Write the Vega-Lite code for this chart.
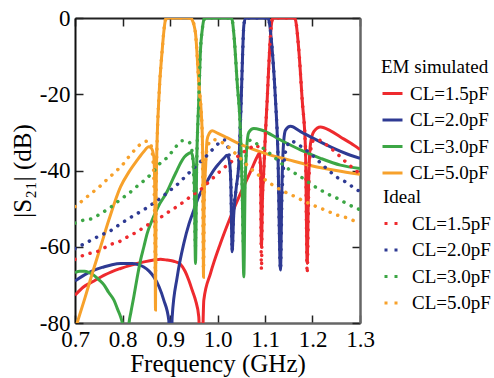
{
"$schema": "https://vega.github.io/schema/vega-lite/v6.json",
"width": 285, "height": 305,
"autosize": {"type": "none"},
"padding": {"left": 75, "top": 18, "right": 134, "bottom": 55},
"background": "white",
"config": {
 "font": "Liberation Serif",
 "view": {"stroke": null},
 "axis": {"labelFont": "Liberation Serif", "labelFontSize": 23, "labelColor": "black", "titleFont": "Liberation Serif", "titleFontSize": 25, "titleFontWeight": "normal", "titleColor": "black", "grid": false, "tickSize": -8, "tickColor": "#222", "tickWidth": 1.5, "domainColor": "#333", "domainWidth": 2, "labelOverlap": false, "labelFlush": false},
 "legend": {"titleFont": "Liberation Serif", "titleFontSize": 19, "titleFontWeight": "normal", "titleColor": "black", "labelFont": "Liberation Serif", "labelFontSize": 19, "labelColor": "black", "symbolType": "stroke", "symbolStrokeWidth": 3, "symbolSize": 400, "rowPadding": 4.5, "labelOffset": 6, "titlePadding": 5}
},
"datasets": {
 "em": [
{"f":0.700,"db":-72.7,"c":"CL=1.5pF"},{"f":0.7185,"db":-70.5,"c":"CL=1.5pF"},{"f":0.740,"db":-69,"c":"CL=1.5pF"},{"f":0.7606,"db":-67.5,"c":"CL=1.5pF"},{"f":0.778,"db":-66.5,"c":"CL=1.5pF"},{"f":0.7958,"db":-65.7,"c":"CL=1.5pF"},{"f":0.813,"db":-65,"c":"CL=1.5pF"},{"f":0.8309,"db":-64.4,"c":"CL=1.5pF"},{"f":0.848,"db":-63.9,"c":"CL=1.5pF"},{"f":0.8659,"db":-63.5,"c":"CL=1.5pF"},{"f":0.880,"db":-63.3,"c":"CL=1.5pF"},{"f":0.8941,"db":-63.5,"c":"CL=1.5pF"},{"f":0.908,"db":-63.8,"c":"CL=1.5pF"},{"f":0.9221,"db":-64.6,"c":"CL=1.5pF"},{"f":0.932,"db":-66.5,"c":"CL=1.5pF"},{"f":0.9396,"db":-68.8,"c":"CL=1.5pF"},{"f":0.947,"db":-71.5,"c":"CL=1.5pF"},{"f":0.9537,"db":-74,"c":"CL=1.5pF"},{"f":0.9606,"db":-78.4,"c":"CL=1.5pF"},{"f":0.9655,"db":-100,"c":"CL=1.5pF"},{"f":0.9712,"db":-74,"c":"CL=1.5pF"},{"f":0.9853,"db":-67,"c":"CL=1.5pF"},{"f":1.0063,"db":-59.1,"c":"CL=1.5pF"},{"f":1.0274,"db":-52.2,"c":"CL=1.5pF"},{"f":1.0484,"db":-46,"c":"CL=1.5pF"},{"f":1.0695,"db":-40.3,"c":"CL=1.5pF"},{"f":1.0836,"db":-36.4,"c":"CL=1.5pF"},{"f":1.088,"db":-35.5,"c":"CL=1.5pF"},{"f":1.0905,"db":-38,"c":"CL=1.5pF"},{"f":1.0925,"db":-60,"c":"CL=1.5pF"},{"f":1.0945,"db":-48,"c":"CL=1.5pF"},{"f":1.0975,"db":-40,"c":"CL=1.5pF"},{"f":1.101,"db":-30,"c":"CL=1.5pF"},{"f":1.1046,"db":-21.5,"c":"CL=1.5pF"},{"f":1.109,"db":-10,"c":"CL=1.5pF"},{"f":1.1125,"db":-3,"c":"CL=1.5pF"},{"f":1.1165,"db":0,"c":"CL=1.5pF"},{"f":1.162,"db":0,"c":"CL=1.5pF"},{"f":1.1642,"db":-0.5,"c":"CL=1.5pF"},{"f":1.1712,"db":-8.4,"c":"CL=1.5pF"},{"f":1.1783,"db":-21.5,"c":"CL=1.5pF"},{"f":1.1853,"db":-34.6,"c":"CL=1.5pF"},{"f":1.1888,"db":-64.4,"c":"CL=1.5pF"},{"f":1.1915,"db":-45,"c":"CL=1.5pF"},{"f":1.1958,"db":-33,"c":"CL=1.5pF"},{"f":1.2027,"db":-29.8,"c":"CL=1.5pF"},{"f":1.2168,"db":-28.6,"c":"CL=1.5pF"},{"f":1.238,"db":-29.6,"c":"CL=1.5pF"},{"f":1.2589,"db":-31.2,"c":"CL=1.5pF"},{"f":1.28,"db":-32.8,"c":"CL=1.5pF"},{"f":1.3,"db":-34.5,"c":"CL=1.5pF"},

{"f":0.700,"db":-69,"c":"CL=2.0pF"},{"f":0.7257,"db":-67,"c":"CL=2.0pF"},{"f":0.743,"db":-66,"c":"CL=2.0pF"},{"f":0.7606,"db":-65.3,"c":"CL=2.0pF"},{"f":0.778,"db":-64.7,"c":"CL=2.0pF"},{"f":0.7958,"db":-64.4,"c":"CL=2.0pF"},{"f":0.8204,"db":-64.4,"c":"CL=2.0pF"},{"f":0.833,"db":-64.7,"c":"CL=2.0pF"},{"f":0.8448,"db":-65.3,"c":"CL=2.0pF"},{"f":0.856,"db":-66.4,"c":"CL=2.0pF"},{"f":0.8659,"db":-67.9,"c":"CL=2.0pF"},{"f":0.877,"db":-70.5,"c":"CL=2.0pF"},{"f":0.8869,"db":-74,"c":"CL=2.0pF"},{"f":0.8975,"db":-79.3,"c":"CL=2.0pF"},{"f":0.9005,"db":-100,"c":"CL=2.0pF"},{"f":0.9046,"db":-78.4,"c":"CL=2.0pF"},{"f":0.9152,"db":-67.9,"c":"CL=2.0pF"},{"f":0.9291,"db":-59.1,"c":"CL=2.0pF"},{"f":0.940,"db":-54,"c":"CL=2.0pF"},{"f":0.9501,"db":-50.4,"c":"CL=2.0pF"},{"f":0.960,"db":-47,"c":"CL=2.0pF"},{"f":0.9712,"db":-44.3,"c":"CL=2.0pF"},{"f":0.982,"db":-42,"c":"CL=2.0pF"},{"f":0.9922,"db":-39.9,"c":"CL=2.0pF"},{"f":1.003,"db":-38.2,"c":"CL=2.0pF"},{"f":1.0133,"db":-36.8,"c":"CL=2.0pF"},{"f":1.0204,"db":-36,"c":"CL=2.0pF"},{"f":1.025,"db":-37.5,"c":"CL=2.0pF"},{"f":1.028,"db":-43,"c":"CL=2.0pF"},{"f":1.0309,"db":-61.3,"c":"CL=2.0pF"},{"f":1.034,"db":-52,"c":"CL=2.0pF"},{"f":1.039,"db":-45,"c":"CL=2.0pF"},{"f":1.0449,"db":-38,"c":"CL=2.0pF"},{"f":1.0499,"db":-21.5,"c":"CL=2.0pF"},{"f":1.053,"db":-9,"c":"CL=2.0pF"},{"f":1.0554,"db":-2,"c":"CL=2.0pF"},{"f":1.059,"db":0,"c":"CL=2.0pF"},{"f":1.106,"db":0,"c":"CL=2.0pF"},{"f":1.108,"db":-0.5,"c":"CL=2.0pF"},{"f":1.1152,"db":-8.4,"c":"CL=2.0pF"},{"f":1.1221,"db":-21.5,"c":"CL=2.0pF"},{"f":1.127,"db":-34.6,"c":"CL=2.0pF"},{"f":1.1326,"db":-66.1,"c":"CL=2.0pF"},{"f":1.1355,"db":-45,"c":"CL=2.0pF"},{"f":1.1396,"db":-32,"c":"CL=2.0pF"},{"f":1.1432,"db":-29.4,"c":"CL=2.0pF"},{"f":1.1537,"db":-28.4,"c":"CL=2.0pF"},{"f":1.175,"db":-29.8,"c":"CL=2.0pF"},{"f":1.1958,"db":-31.2,"c":"CL=2.0pF"},{"f":1.2379,"db":-33.8,"c":"CL=2.0pF"},{"f":1.28,"db":-36,"c":"CL=2.0pF"},{"f":1.3,"db":-36.8,"c":"CL=2.0pF"},

{"f":0.700,"db":-66.8,"c":"CL=3.0pF"},{"f":0.710,"db":-66.4,"c":"CL=3.0pF"},{"f":0.720,"db":-66.4,"c":"CL=3.0pF"},{"f":0.730,"db":-66.8,"c":"CL=3.0pF"},{"f":0.740,"db":-67.5,"c":"CL=3.0pF"},{"f":0.750,"db":-68.6,"c":"CL=3.0pF"},{"f":0.761,"db":-70,"c":"CL=3.0pF"},{"f":0.771,"db":-72,"c":"CL=3.0pF"},{"f":0.782,"db":-74,"c":"CL=3.0pF"},{"f":0.790,"db":-76.5,"c":"CL=3.0pF"},{"f":0.796,"db":-78.4,"c":"CL=3.0pF"},{"f":0.801,"db":-81,"c":"CL=3.0pF"},{"f":0.807,"db":-100,"c":"CL=3.0pF"},{"f":0.813,"db":-81,"c":"CL=3.0pF"},{"f":0.818,"db":-77,"c":"CL=3.0pF"},{"f":0.824,"db":-73,"c":"CL=3.0pF"},{"f":0.831,"db":-68,"c":"CL=3.0pF"},{"f":0.838,"db":-63.5,"c":"CL=3.0pF"},{"f":0.845,"db":-60,"c":"CL=3.0pF"},{"f":0.852,"db":-56.5,"c":"CL=3.0pF"},{"f":0.8625,"db":-53,"c":"CL=3.0pF"},{"f":0.875,"db":-49.5,"c":"CL=3.0pF"},{"f":0.894,"db":-45.5,"c":"CL=3.0pF"},{"f":0.905,"db":-42.5,"c":"CL=3.0pF"},{"f":0.915,"db":-39.9,"c":"CL=3.0pF"},{"f":0.922,"db":-38.1,"c":"CL=3.0pF"},{"f":0.930,"db":-36.5,"c":"CL=3.0pF"},{"f":0.9396,"db":-35.5,"c":"CL=3.0pF"},{"f":0.9446,"db":-35.3,"c":"CL=3.0pF"},{"f":0.948,"db":-36.5,"c":"CL=3.0pF"},{"f":0.951,"db":-42,"c":"CL=3.0pF"},{"f":0.9537,"db":-64.4,"c":"CL=3.0pF"},{"f":0.956,"db":-40,"c":"CL=3.0pF"},{"f":0.9606,"db":-21.5,"c":"CL=3.0pF"},{"f":0.9642,"db":-8.4,"c":"CL=3.0pF"},{"f":0.968,"db":-3,"c":"CL=3.0pF"},{"f":0.9712,"db":-0.5,"c":"CL=3.0pF"},{"f":0.975,"db":0,"c":"CL=3.0pF"},{"f":1.028,"db":0,"c":"CL=3.0pF"},{"f":1.0309,"db":-0.5,"c":"CL=3.0pF"},{"f":1.0343,"db":-4,"c":"CL=3.0pF"},{"f":1.0415,"db":-17,"c":"CL=3.0pF"},{"f":1.0484,"db":-30,"c":"CL=3.0pF"},{"f":1.052,"db":-45,"c":"CL=3.0pF"},{"f":1.0554,"db":-67.9,"c":"CL=3.0pF"},{"f":1.058,"db":-45,"c":"CL=3.0pF"},{"f":1.061,"db":-35,"c":"CL=3.0pF"},{"f":1.0659,"db":-30,"c":"CL=3.0pF"},{"f":1.0764,"db":-29,"c":"CL=3.0pF"},{"f":1.0905,"db":-29.3,"c":"CL=3.0pF"},{"f":1.1326,"db":-32,"c":"CL=3.0pF"},{"f":1.1747,"db":-34.6,"c":"CL=3.0pF"},{"f":1.2168,"db":-36.8,"c":"CL=3.0pF"},{"f":1.2589,"db":-38.6,"c":"CL=3.0pF"},{"f":1.3,"db":-39.5,"c":"CL=3.0pF"},

{"f":0.700,"db":-82,"c":"CL=5.0pF"},{"f":0.7046,"db":-80,"c":"CL=5.0pF"},{"f":0.720,"db":-73.8,"c":"CL=5.0pF"},{"f":0.7376,"db":-66.5,"c":"CL=5.0pF"},{"f":0.7546,"db":-59.7,"c":"CL=5.0pF"},{"f":0.7712,"db":-53,"c":"CL=5.0pF"},{"f":0.7958,"db":-44.3,"c":"CL=5.0pF"},{"f":0.813,"db":-40.5,"c":"CL=5.0pF"},{"f":0.8309,"db":-37.3,"c":"CL=5.0pF"},{"f":0.845,"db":-35,"c":"CL=5.0pF"},{"f":0.8554,"db":-33.8,"c":"CL=5.0pF"},{"f":0.861,"db":-34.2,"c":"CL=5.0pF"},{"f":0.8659,"db":-36.4,"c":"CL=5.0pF"},{"f":0.868,"db":-45,"c":"CL=5.0pF"},{"f":0.8695,"db":-76.6,"c":"CL=5.0pF"},{"f":0.8705,"db":-50,"c":"CL=5.0pF"},{"f":0.8716,"db":-39,"c":"CL=5.0pF"},{"f":0.8764,"db":-21.5,"c":"CL=5.0pF"},{"f":0.8836,"db":-8.4,"c":"CL=5.0pF"},{"f":0.8875,"db":-3,"c":"CL=5.0pF"},{"f":0.8905,"db":-0.5,"c":"CL=5.0pF"},{"f":0.894,"db":0,"c":"CL=5.0pF"},{"f":0.944,"db":0,"c":"CL=5.0pF"},{"f":0.9467,"db":-0.5,"c":"CL=5.0pF"},{"f":0.9537,"db":-4,"c":"CL=5.0pF"},{"f":0.9606,"db":-17,"c":"CL=5.0pF"},{"f":0.9678,"db":-30,"c":"CL=5.0pF"},{"f":0.9695,"db":-45,"c":"CL=5.0pF"},{"f":0.9705,"db":-68,"c":"CL=5.0pF"},{"f":0.9718,"db":-48,"c":"CL=5.0pF"},{"f":0.975,"db":-39,"c":"CL=5.0pF"},{"f":0.978,"db":-32,"c":"CL=5.0pF"},{"f":0.983,"db":-30.2,"c":"CL=5.0pF"},{"f":0.9887,"db":-29.6,"c":"CL=5.0pF"},{"f":1.0,"db":-30.2,"c":"CL=5.0pF"},{"f":1.02,"db":-31.4,"c":"CL=5.0pF"},{"f":1.05,"db":-33.2,"c":"CL=5.0pF"},{"f":1.1,"db":-35.5,"c":"CL=5.0pF"},{"f":1.15,"db":-37.2,"c":"CL=5.0pF"},{"f":1.2,"db":-38.8,"c":"CL=5.0pF"},{"f":1.25,"db":-40,"c":"CL=5.0pF"},{"f":1.3,"db":-41,"c":"CL=5.0pF"}
 ],
 "ideal": [
{"f":0.700,"db":-63.3,"c":"CL=1.5pF"},{"f":0.7185,"db":-62.2,"c":"CL=1.5pF"},{"f":0.7537,"db":-60.9,"c":"CL=1.5pF"},{"f":0.7712,"db":-59.6,"c":"CL=1.5pF"},{"f":0.7958,"db":-58.5,"c":"CL=1.5pF"},{"f":0.8133,"db":-57.2,"c":"CL=1.5pF"},{"f":0.8309,"db":-56.1,"c":"CL=1.5pF"},{"f":0.8484,"db":-54.6,"c":"CL=1.5pF"},{"f":0.8659,"db":-53.5,"c":"CL=1.5pF"},{"f":0.8836,"db":-52,"c":"CL=1.5pF"},{"f":0.8941,"db":-51.1,"c":"CL=1.5pF"},{"f":0.9116,"db":-49.7,"c":"CL=1.5pF"},{"f":0.929,"db":-48.2,"c":"CL=1.5pF"},{"f":0.9467,"db":-46.5,"c":"CL=1.5pF"},{"f":0.9642,"db":-45,"c":"CL=1.5pF"},{"f":0.9817,"db":-43,"c":"CL=1.5pF"},{"f":1.0063,"db":-40.1,"c":"CL=1.5pF"},{"f":1.03,"db":-37.6,"c":"CL=1.5pF"},{"f":1.05,"db":-35.6,"c":"CL=1.5pF"},{"f":1.07,"db":-34,"c":"CL=1.5pF"},{"f":1.082,"db":-33.3,"c":"CL=1.5pF"},{"f":1.087,"db":-34.5,"c":"CL=1.5pF"},{"f":1.0905,"db":-40,"c":"CL=1.5pF"},{"f":1.0925,"db":-66,"c":"CL=1.5pF"},{"f":1.0945,"db":-48,"c":"CL=1.5pF"},{"f":1.0975,"db":-40,"c":"CL=1.5pF"},{"f":1.101,"db":-30,"c":"CL=1.5pF"},{"f":1.1046,"db":-21.5,"c":"CL=1.5pF"},{"f":1.109,"db":-10,"c":"CL=1.5pF"},{"f":1.1125,"db":-3,"c":"CL=1.5pF"},{"f":1.1165,"db":0,"c":"CL=1.5pF"},{"f":1.162,"db":0,"c":"CL=1.5pF"},{"f":1.1642,"db":-0.5,"c":"CL=1.5pF"},{"f":1.1712,"db":-8.4,"c":"CL=1.5pF"},{"f":1.1783,"db":-21.5,"c":"CL=1.5pF"},{"f":1.1853,"db":-34.6,"c":"CL=1.5pF"},{"f":1.1888,"db":-67,"c":"CL=1.5pF"},{"f":1.192,"db":-45,"c":"CL=1.5pF"},{"f":1.1958,"db":-35,"c":"CL=1.5pF"},{"f":1.2027,"db":-32,"c":"CL=1.5pF"},{"f":1.211,"db":-31.8,"c":"CL=1.5pF"},{"f":1.2204,"db":-32.5,"c":"CL=1.5pF"},{"f":1.2554,"db":-36,"c":"CL=1.5pF"},{"f":1.2695,"db":-37.7,"c":"CL=1.5pF"},{"f":1.2941,"db":-40.3,"c":"CL=1.5pF"},{"f":1.3,"db":-41,"c":"CL=1.5pF"},

{"f":0.700,"db":-60.5,"c":"CL=2.0pF"},{"f":0.7185,"db":-59.3,"c":"CL=2.0pF"},{"f":0.7537,"db":-57,"c":"CL=2.0pF"},{"f":0.7747,"db":-55.8,"c":"CL=2.0pF"},{"f":0.7958,"db":-54,"c":"CL=2.0pF"},{"f":0.8133,"db":-52.6,"c":"CL=2.0pF"},{"f":0.8309,"db":-51.3,"c":"CL=2.0pF"},{"f":0.8484,"db":-50,"c":"CL=2.0pF"},{"f":0.8659,"db":-48.5,"c":"CL=2.0pF"},{"f":0.8836,"db":-46.9,"c":"CL=2.0pF"},{"f":0.8941,"db":-45.8,"c":"CL=2.0pF"},{"f":0.9116,"db":-44.1,"c":"CL=2.0pF"},{"f":0.929,"db":-42,"c":"CL=2.0pF"},{"f":0.945,"db":-40,"c":"CL=2.0pF"},{"f":0.9606,"db":-38.1,"c":"CL=2.0pF"},{"f":0.9783,"db":-36,"c":"CL=2.0pF"},{"f":0.9888,"db":-34.6,"c":"CL=2.0pF"},{"f":1.0063,"db":-32.5,"c":"CL=2.0pF"},{"f":1.015,"db":-32,"c":"CL=2.0pF"},{"f":1.021,"db":-33.5,"c":"CL=2.0pF"},{"f":1.026,"db":-38,"c":"CL=2.0pF"},{"f":1.0285,"db":-45,"c":"CL=2.0pF"},{"f":1.0309,"db":-61,"c":"CL=2.0pF"},{"f":1.034,"db":-50,"c":"CL=2.0pF"},{"f":1.039,"db":-45,"c":"CL=2.0pF"},{"f":1.0449,"db":-38,"c":"CL=2.0pF"},{"f":1.0499,"db":-21.5,"c":"CL=2.0pF"},{"f":1.053,"db":-9,"c":"CL=2.0pF"},{"f":1.0554,"db":-2,"c":"CL=2.0pF"},{"f":1.059,"db":0,"c":"CL=2.0pF"},{"f":1.106,"db":0,"c":"CL=2.0pF"},{"f":1.108,"db":-0.5,"c":"CL=2.0pF"},{"f":1.1152,"db":-8.4,"c":"CL=2.0pF"},{"f":1.1221,"db":-21.5,"c":"CL=2.0pF"},{"f":1.127,"db":-34.6,"c":"CL=2.0pF"},{"f":1.1326,"db":-66,"c":"CL=2.0pF"},{"f":1.1355,"db":-48,"c":"CL=2.0pF"},{"f":1.14,"db":-38,"c":"CL=2.0pF"},{"f":1.147,"db":-33.5,"c":"CL=2.0pF"},{"f":1.155,"db":-32.2,"c":"CL=2.0pF"},{"f":1.1606,"db":-32.5,"c":"CL=2.0pF"},{"f":1.1817,"db":-34.2,"c":"CL=2.0pF"},{"f":1.2,"db":-36,"c":"CL=2.0pF"},{"f":1.2168,"db":-38,"c":"CL=2.0pF"},{"f":1.2343,"db":-40,"c":"CL=2.0pF"},{"f":1.252,"db":-41.8,"c":"CL=2.0pF"},{"f":1.2695,"db":-43,"c":"CL=2.0pF"},{"f":1.2941,"db":-45.1,"c":"CL=2.0pF"},{"f":1.3,"db":-45.5,"c":"CL=2.0pF"},

{"f":0.700,"db":-53.8,"c":"CL=3.0pF"},{"f":0.7185,"db":-53,"c":"CL=3.0pF"},{"f":0.7362,"db":-52.6,"c":"CL=3.0pF"},{"f":0.7537,"db":-51.3,"c":"CL=3.0pF"},{"f":0.7712,"db":-50,"c":"CL=3.0pF"},{"f":0.7958,"db":-47.6,"c":"CL=3.0pF"},{"f":0.8133,"db":-46,"c":"CL=3.0pF"},{"f":0.8309,"db":-44.1,"c":"CL=3.0pF"},{"f":0.8484,"db":-42.3,"c":"CL=3.0pF"},{"f":0.8659,"db":-40.2,"c":"CL=3.0pF"},{"f":0.880,"db":-38,"c":"CL=3.0pF"},{"f":0.8941,"db":-36.6,"c":"CL=3.0pF"},{"f":0.908,"db":-34.5,"c":"CL=3.0pF"},{"f":0.9257,"db":-32.2,"c":"CL=3.0pF"},{"f":0.9396,"db":-32.5,"c":"CL=3.0pF"},{"f":0.945,"db":-34,"c":"CL=3.0pF"},{"f":0.949,"db":-39,"c":"CL=3.0pF"},{"f":0.9515,"db":-48,"c":"CL=3.0pF"},{"f":0.9535,"db":-60,"c":"CL=3.0pF"},{"f":0.9555,"db":-42,"c":"CL=3.0pF"},{"f":0.958,"db":-30,"c":"CL=3.0pF"},{"f":0.9606,"db":-21.5,"c":"CL=3.0pF"},{"f":0.9642,"db":-8.4,"c":"CL=3.0pF"},{"f":0.968,"db":-3,"c":"CL=3.0pF"},{"f":0.9712,"db":-0.5,"c":"CL=3.0pF"},{"f":0.975,"db":0,"c":"CL=3.0pF"},{"f":1.028,"db":0,"c":"CL=3.0pF"},{"f":1.0309,"db":-0.5,"c":"CL=3.0pF"},{"f":1.0343,"db":-4,"c":"CL=3.0pF"},{"f":1.0415,"db":-17,"c":"CL=3.0pF"},{"f":1.0484,"db":-30,"c":"CL=3.0pF"},{"f":1.052,"db":-45,"c":"CL=3.0pF"},{"f":1.0545,"db":-59,"c":"CL=3.0pF"},{"f":1.057,"db":-44,"c":"CL=3.0pF"},{"f":1.060,"db":-36,"c":"CL=3.0pF"},{"f":1.066,"db":-32.5,"c":"CL=3.0pF"},{"f":1.0695,"db":-32,"c":"CL=3.0pF"},{"f":1.085,"db":-33.2,"c":"CL=3.0pF"},{"f":1.1011,"db":-34.6,"c":"CL=3.0pF"},{"f":1.1185,"db":-36.4,"c":"CL=3.0pF"},{"f":1.1362,"db":-38.3,"c":"CL=3.0pF"},{"f":1.1537,"db":-40,"c":"CL=3.0pF"},{"f":1.1747,"db":-41.6,"c":"CL=3.0pF"},{"f":1.1994,"db":-43.8,"c":"CL=3.0pF"},{"f":1.2168,"db":-45.1,"c":"CL=3.0pF"},{"f":1.2343,"db":-46.3,"c":"CL=3.0pF"},{"f":1.252,"db":-47.3,"c":"CL=3.0pF"},{"f":1.2695,"db":-48.5,"c":"CL=3.0pF"},{"f":1.2941,"db":-50,"c":"CL=3.0pF"},{"f":1.3,"db":-50.3,"c":"CL=3.0pF"},

{"f":0.700,"db":-49.5,"c":"CL=5.0pF"},{"f":0.7185,"db":-47.6,"c":"CL=5.0pF"},{"f":0.7362,"db":-45.8,"c":"CL=5.0pF"},{"f":0.7537,"db":-44,"c":"CL=5.0pF"},{"f":0.7705,"db":-42,"c":"CL=5.0pF"},{"f":0.7888,"db":-39.9,"c":"CL=5.0pF"},{"f":0.7994,"db":-38.6,"c":"CL=5.0pF"},{"f":0.8126,"db":-36.5,"c":"CL=5.0pF"},{"f":0.8274,"db":-34.4,"c":"CL=5.0pF"},{"f":0.8448,"db":-32.5,"c":"CL=5.0pF"},{"f":0.853,"db":-32.3,"c":"CL=5.0pF"},{"f":0.859,"db":-33,"c":"CL=5.0pF"},{"f":0.864,"db":-37,"c":"CL=5.0pF"},{"f":0.867,"db":-47,"c":"CL=5.0pF"},{"f":0.8695,"db":-68,"c":"CL=5.0pF"},{"f":0.871,"db":-45,"c":"CL=5.0pF"},{"f":0.8735,"db":-30,"c":"CL=5.0pF"},{"f":0.8764,"db":-21.5,"c":"CL=5.0pF"},{"f":0.8836,"db":-8.4,"c":"CL=5.0pF"},{"f":0.8905,"db":-0.5,"c":"CL=5.0pF"},{"f":0.895,"db":0,"c":"CL=5.0pF"},{"f":0.942,"db":0,"c":"CL=5.0pF"},{"f":0.9467,"db":-0.5,"c":"CL=5.0pF"},{"f":0.9537,"db":-4,"c":"CL=5.0pF"},{"f":0.9606,"db":-17,"c":"CL=5.0pF"},{"f":0.9678,"db":-30,"c":"CL=5.0pF"},{"f":0.9705,"db":-66,"c":"CL=5.0pF"},{"f":0.973,"db":-42,"c":"CL=5.0pF"},{"f":0.977,"db":-35,"c":"CL=5.0pF"},{"f":0.984,"db":-32.5,"c":"CL=5.0pF"},{"f":0.9922,"db":-31.9,"c":"CL=5.0pF"},{"f":1.0133,"db":-32.9,"c":"CL=5.0pF"},{"f":1.0415,"db":-36,"c":"CL=5.0pF"},{"f":1.0625,"db":-38.6,"c":"CL=5.0pF"},{"f":1.08,"db":-40.6,"c":"CL=5.0pF"},{"f":1.1011,"db":-42.5,"c":"CL=5.0pF"},{"f":1.1185,"db":-44,"c":"CL=5.0pF"},{"f":1.1362,"db":-45.3,"c":"CL=5.0pF"},{"f":1.1573,"db":-46.5,"c":"CL=5.0pF"},{"f":1.1747,"db":-47.6,"c":"CL=5.0pF"},{"f":1.1994,"db":-49,"c":"CL=5.0pF"},{"f":1.2168,"db":-49.9,"c":"CL=5.0pF"},{"f":1.2343,"db":-50.8,"c":"CL=5.0pF"},{"f":1.252,"db":-51.7,"c":"CL=5.0pF"},{"f":1.2695,"db":-52.3,"c":"CL=5.0pF"},{"f":1.2941,"db":-53.5,"c":"CL=5.0pF"},{"f":1.3,"db":-53.7,"c":"CL=5.0pF"}
 ]
},
"layer": [
 {
  "data": {"name": "em"},
  "mark": {"type": "line", "strokeWidth": 3, "clip": true, "interpolate": "monotone"},
  "encoding": {
   "x": {"field": "f", "type": "quantitative", "scale": {"domain": [0.7, 1.3], "nice": false, "zero": false},
     "axis": {"orient": "bottom", "title": "Frequency (GHz)", "values": [0.7,0.8,0.9,1.0,1.1,1.2,1.3], "format": ".1f", "labelPadding": 13, "titlePadding": 0, "domainColor": "#666", "domainWidth": 2.5}},
   "y": {"field": "db", "type": "quantitative", "scale": {"domain": [-80, 0], "nice": false, "zero": false},
     "axis": {"orient": "left", "title": "|S₂₁| (dB)", "values": [-80,-60,-40,-20,0], "labelExpr": "replace(datum.label, '\u2212', '-')", "labelPadding": 13, "titlePadding": 4, "domainColor": "#111"}},
   "color": {"field": "c", "type": "nominal",
     "scale": {"domain": ["CL=1.5pF","CL=2.0pF","CL=3.0pF","CL=5.0pF"], "range": ["#ee2a2e","#2e3a93","#3ca645","#f7a12b"]},
     "legend": {"title": "EM simulated", "orient": "none", "legendX": 306, "legendY": 40}}
  }
 },
 {
  "data": {"name": "ideal"},
  "mark": {"type": "line", "strokeWidth": 3.5, "strokeDash": [0.1, 8], "strokeCap": "round", "clip": true, "interpolate": "monotone"},
  "encoding": {
   "x": {"field": "f", "type": "quantitative",
     "axis": {"orient": "top", "title": null, "labels": false, "values": [0.7,0.8,0.9,1.0,1.1,1.2,1.3], "domainColor": "#222"}},
   "y": {"field": "db", "type": "quantitative",
     "axis": {"orient": "right", "title": null, "labels": false, "values": [-80,-60,-40,-20,0], "domainColor": "#666", "domainWidth": 2.5}},
   "color": {"field": "c", "type": "nominal",
     "scale": {"domain": ["CL=1.5pF","CL=2.0pF","CL=3.0pF","CL=5.0pF"], "range": ["#ee2a2e","#2e3a93","#3ca645","#f7a12b"]},
     "legend": {"title": "Ideal", "orient": "none", "legendX": 308, "legendY": 170, "symbolDash": [3, 7]}}
  }
 }
],
"resolve": {"scale": {"color": "independent"}, "axis": {"x": "independent", "y": "independent"}, "legend": {"color": "independent"}}
}
